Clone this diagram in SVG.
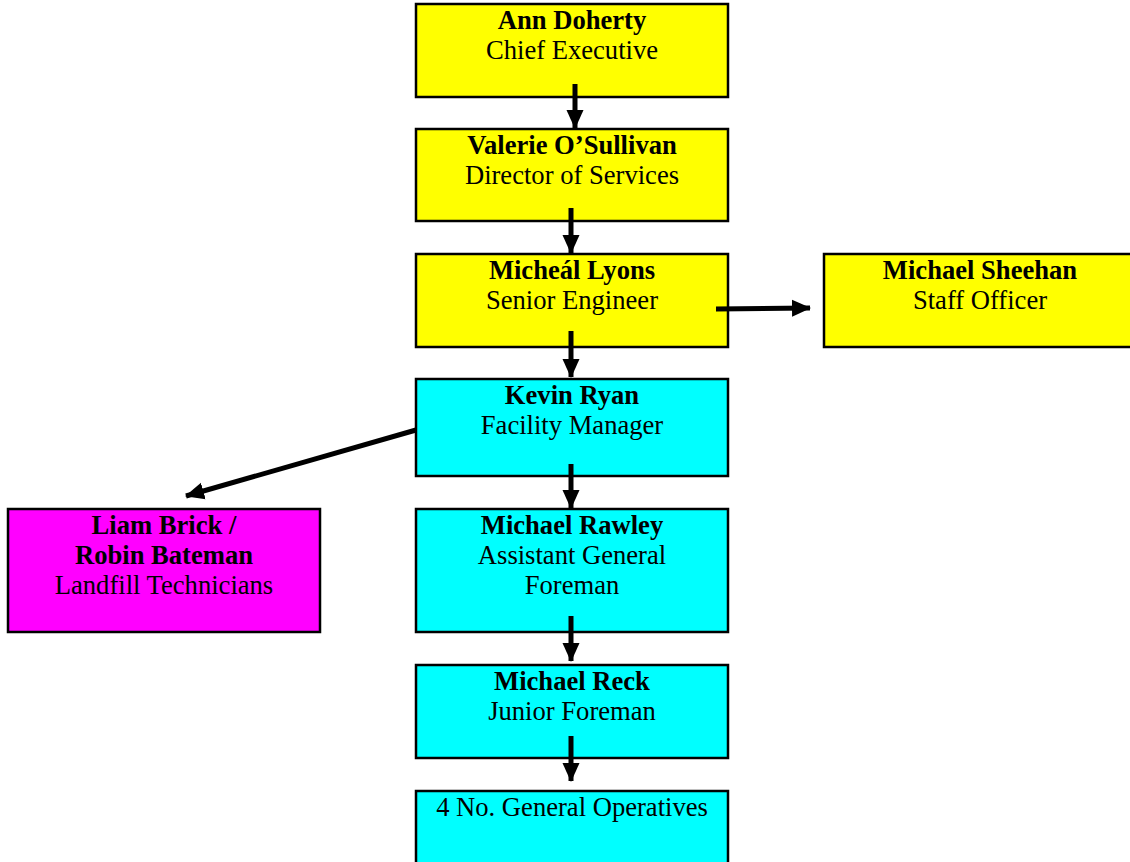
<svg xmlns="http://www.w3.org/2000/svg" width="1130" height="862" viewBox="0 0 1130 862">
<style>
.box{stroke:#000;stroke-width:2.5}
.y{fill:#ffff00}.c{fill:#00ffff}.m{fill:#ff00ff}
text{font-family:"Liberation Serif","Times New Roman",serif;font-size:26.6px;fill:#000;text-anchor:middle}
.b{font-weight:bold}
.conn line{stroke:#000;stroke-width:5}
</style>
<defs>
<marker id="ah" markerUnits="userSpaceOnUse" markerWidth="20" markerHeight="20" viewBox="0 0 20 20" refX="18" refY="10" orient="auto">
<path d="M0,1.5 L19,10 L0,18.5 Z" fill="#000"/>
</marker>
</defs>
<g id="n1"><rect class="box y" x="416" y="4" width="312" height="93"/><text x="572" y="29" class="b">Ann Doherty</text><text x="572" y="59">Chief Executive</text></g>
<g id="n2"><rect class="box y" x="416" y="129" width="312" height="92"/><text x="572" y="154" class="b">Valerie O’Sullivan</text><text x="572" y="184">Director of Services</text></g>
<g id="n3"><rect class="box y" x="416" y="254" width="312" height="93"/><text x="572" y="279" class="b">Micheál Lyons</text><text x="572" y="309">Senior Engineer</text></g>
<g id="n4"><rect class="box y" x="824" y="254" width="310" height="93"/><text x="980" y="279" class="b">Michael Sheehan</text><text x="980" y="309">Staff Officer</text></g>
<g id="n5"><rect class="box c" x="416" y="379" width="312" height="97"/><text x="572" y="404" class="b">Kevin Ryan</text><text x="572" y="434">Facility Manager</text></g>
<g id="n6"><rect class="box m" x="8" y="509" width="312" height="123"/><text x="164" y="534" class="b">Liam Brick /</text><text x="164" y="564" class="b">Robin Bateman</text><text x="164" y="594">Landfill Technicians</text></g>
<g id="n7"><rect class="box c" x="416" y="509" width="312" height="123"/><text x="572" y="534" class="b">Michael Rawley</text><text x="572" y="564">Assistant General</text><text x="572" y="594">Foreman</text></g>
<g id="n8"><rect class="box c" x="416" y="665" width="312" height="93"/><text x="572" y="690" class="b">Michael Reck</text><text x="572" y="720">Junior Foreman</text></g>
<g id="n9"><rect class="box c" x="416" y="791" width="312" height="80"/><text x="572" y="816">4 No. General Operatives</text></g>
<g class="conn" id="connectors">
<line x1="575" y1="84" x2="575" y2="128" marker-end="url(#ah)"/>
<line x1="571" y1="208" x2="571" y2="253" marker-end="url(#ah)"/>
<line x1="571" y1="331" x2="571" y2="377" marker-end="url(#ah)"/>
<line x1="571" y1="464" x2="571" y2="508" marker-end="url(#ah)"/>
<line x1="571" y1="616" x2="571" y2="661" marker-end="url(#ah)"/>
<line x1="571" y1="736" x2="571" y2="781" marker-end="url(#ah)"/>
<line x1="716" y1="309" x2="810" y2="308" marker-end="url(#ah)"/>
<line x1="416" y1="430" x2="186" y2="496" marker-end="url(#ah)"/>
</g>
</svg>
